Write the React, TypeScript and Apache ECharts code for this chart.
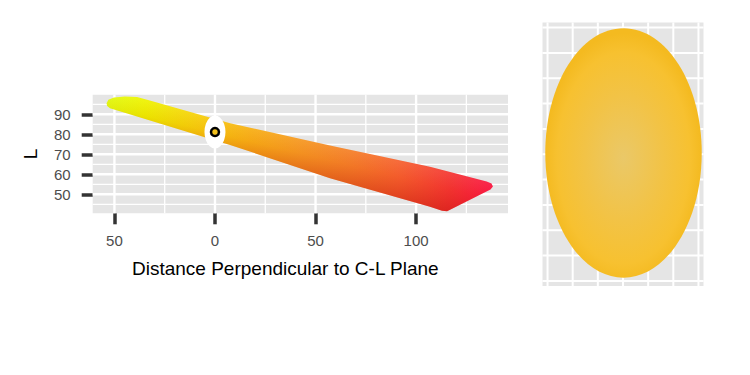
import React, { useEffect, useRef } from "react";
import * as echarts from "echarts";

// ---------- left panel data ----------
const xTickValues = [-50, 0, 50, 100];
const xMinorValues = [-25, 25, 75, 125];
const yTickValues = [50, 60, 70, 80, 90];
const yMinorValues = [45, 55, 65, 75, 85, 95];
const xRange = [-60.8, 145.7];
const yRange = [40.5, 99.8];

// outline of the gamut band (distance, L)
const bandX = [-53.9, -53.0, -50.2, -44.8, -38.8, -33.3, 7.5, 57.2, 106.9, 135.1, 137.5, 138.2, 137.0, 115.4, 112.9, 106.9, 57.2, 7.5, -52.2, -53.6];
const bandY = [95.5, 97.3, 98.4, 98.9, 98.7, 97.2, 85.5, 74.4, 63.8, 56.4, 55.4, 53.9, 52.4, 41.5, 41.8, 43.8, 58.0, 74.7, 93.0, 94.2];

// highlighted colour point
const markerPoint = [0, 81.15];

// ---------- right panel data ----------
const rightXLines = [-3, -2, -1, 0, 1, 2, 3];
const rightYLines = [-5, -4, -3, -2, -1, 0, 1, 2, 3, 4, 5];
const rightXRange = [-3.2, 3.2];
const rightYRange = [-5.2, 5.2];
const ellipseCenter = [0.02, 0.05];
const ellipseRadii = [3.11, 4.92];

const FONT = "'Liberation Sans', Arial, Helvetica, sans-serif";

function gridLineSeries(values: number[], orient: "v" | "h", width: number, idx: number, mid: number) {
  return {
    type: "custom",
    xAxisIndex: idx,
    yAxisIndex: idx,
    silent: true,
    z: 1,
    data: values.map((v) => (orient === "v" ? [v, mid] : [mid, v])),
    renderItem: (params: any, api: any) => {
      const cs = params.coordSys;
      const p = api.coord([api.value(0), api.value(1)]);
      if (orient === "v") {
        return {
          type: "line",
          shape: { x1: p[0], y1: cs.y, x2: p[0], y2: cs.y + cs.height },
          style: { stroke: "#ffffff", lineWidth: width },
        };
      }
      return {
        type: "line",
        shape: { x1: cs.x, y1: p[1], x2: cs.x + cs.width, y2: p[1] },
        style: { stroke: "#ffffff", lineWidth: width },
      };
    },
  };
}

export default function App() {
  const ref = useRef<HTMLDivElement>(null);

  useEffect(() => {
    if (!ref.current) return;
    const chart = echarts.init(ref.current, undefined, { renderer: "svg" });
    const bandPoints = bandX.map((x, i) => [x, bandY[i]]);

    const option: any = {
      animation: false,
      backgroundColor: "#ffffff",
      textStyle: { fontFamily: FONT },
      grid: [
        { left: 92.7, top: 94.7, width: 415.3, height: 118.6, show: true, backgroundColor: "#e5e5e5", borderWidth: 0 },
        { left: 542.5, top: 22.5, width: 161, height: 263.5, show: true, backgroundColor: "#e5e5e5", borderWidth: 0 },
      ],
      xAxis: [
        {
          type: "value",
          gridIndex: 0,
          position: "bottom",
          min: xRange[0],
          max: xRange[1],
          axisLine: { show: false, onZero: false },
          splitLine: { show: false },
          axisTick: { show: true, customValues: xTickValues, length: 11, lineStyle: { color: "#333333", width: 3.5 } },
          axisLabel: {
            customValues: xTickValues,
            formatter: (v: number) => String(Math.abs(v)),
            margin: 20,
            fontSize: 15,
            color: "#4d4d4d",
            fontFamily: FONT,
          },
        },
        {
          type: "value",
          gridIndex: 1,
          min: rightXRange[0],
          max: rightXRange[1],
          show: false,
        },
      ],
      yAxis: [
        {
          type: "value",
          gridIndex: 0,
          position: "left",
          min: yRange[0],
          max: yRange[1],
          name: "L",
          nameLocation: "middle",
          nameGap: 53,
          nameTextStyle: { fontSize: 19, color: "#000000", fontFamily: FONT },
          axisLine: { show: false, onZero: false },
          splitLine: { show: false },
          axisTick: { show: true, customValues: yTickValues, length: 11, lineStyle: { color: "#333333", width: 3.5 } },
          axisLabel: { customValues: yTickValues, margin: 22, fontSize: 15, color: "#4d4d4d", fontFamily: FONT },
        },
        {
          type: "value",
          gridIndex: 1,
          min: rightYRange[0],
          max: rightYRange[1],
          show: false,
        },
      ],
      graphic: [
        {
          type: "text",
          left: 132,
          top: 259,
          style: {
            text: "Distance Perpendicular to C-L Plane",
            fontSize: 19,
            fill: "#000000",
            fontFamily: FONT,
          },
        },
      ],
      series: [
        gridLineSeries(xMinorValues, "v", 1.3, 0, 70),
        gridLineSeries(yMinorValues, "h", 1.3, 0, 40),
        gridLineSeries(xTickValues, "v", 2.4, 0, 70),
        gridLineSeries(yTickValues, "h", 2.4, 0, 40),
        gridLineSeries(rightXLines, "v", 2, 1, 0),
        gridLineSeries(rightYLines, "h", 2, 1, 0),
        {
          type: "custom",
          xAxisIndex: 0,
          yAxisIndex: 0,
          silent: true,
          z: 2,
          data: bandPoints,
          renderItem: (params: any, api: any) => {
            if (params.dataIndex !== 0) return null;
            const pts = bandPoints.map((p) => api.coord(p));
            const a = api.coord([bandX[0], 80]);
            const b = api.coord([bandX[11], 80]);
            const main = new echarts.graphic.LinearGradient(
              a[0], 0, b[0], 0,
              [
                { offset: 0, color: "#e2ff12" },
                { offset: 0.1, color: "#eef200" },
                { offset: 0.24, color: "#f7d00c" },
                { offset: 0.37, color: "#f8b216" },
                { offset: 0.5, color: "#f69a22" },
                { offset: 0.63, color: "#f58028" },
                { offset: 0.76, color: "#f6602e" },
                { offset: 0.89, color: "#f43632" },
                { offset: 1, color: "#fa1440" },
              ],
              true
            );
            const t1 = api.coord([bandX[5], bandY[5]]);
            const t2 = api.coord([bandX[9], bandY[9]]);
            const dx = t2[0] - t1[0];
            const dy = t2[1] - t1[1];
            const len = Math.sqrt(dx * dx + dy * dy);
            const nx = -dy / len;
            const ny = dx / len;
            const s = api.coord([bandX[7], bandY[7]]);
            const e = [s[0] + nx * 36, s[1] + ny * 36];
            const shade = new echarts.graphic.LinearGradient(
              s[0], s[1], e[0], e[1],
              [
                { offset: 0, color: "rgba(255,255,255,0.06)" },
                { offset: 0.4, color: "rgba(190,0,0,0.06)" },
                { offset: 1, color: "rgba(180,0,0,0.34)" },
              ],
              true
            );
            return {
              type: "group",
              children: [
                { type: "polygon", shape: { points: pts, smooth: 0 }, style: { fill: main } },
                { type: "polygon", shape: { points: pts, smooth: 0 }, style: { fill: shade } },
              ],
            };
          },
        },
        {
          type: "scatter",
          xAxisIndex: 0,
          yAxisIndex: 0,
          silent: true,
          z: 3,
          symbol: "circle",
          symbolSize: [21, 33],
          itemStyle: { color: "#ffffff", opacity: 1 },
          data: [markerPoint],
        },
        {
          type: "scatter",
          xAxisIndex: 0,
          yAxisIndex: 0,
          silent: true,
          z: 4,
          symbol: "circle",
          symbolSize: 8,
          itemStyle: { color: "#f2c01c", borderColor: "#000000", borderWidth: 2.5, opacity: 1 },
          data: [markerPoint],
        },
        {
          type: "custom",
          xAxisIndex: 1,
          yAxisIndex: 1,
          silent: true,
          z: 2,
          data: [ellipseCenter],
          renderItem: (params: any, api: any) => {
            const c = api.coord([api.value(0), api.value(1)]);
            const sz = api.size(ellipseRadii);
            return {
              type: "ellipse",
              shape: { cx: c[0], cy: c[1], rx: sz[0], ry: sz[1] },
              style: {
                fill: new echarts.graphic.RadialGradient(0.5, 0.52, 0.5, [
                  { offset: 0, color: "#eac868" },
                  { offset: 0.5, color: "#f2c346" },
                  { offset: 0.85, color: "#f7c130" },
                  { offset: 1, color: "#f4ba20" },
                ]),
              },
            };
          },
        },
      ],
    };

    chart.setOption(option);
    return () => chart.dispose();
  }, []);

  return (
    <div
      ref={ref}
      style={{ position: "absolute", left: 0, top: 0, width: 750, height: 375 }}
    />
  );
}
